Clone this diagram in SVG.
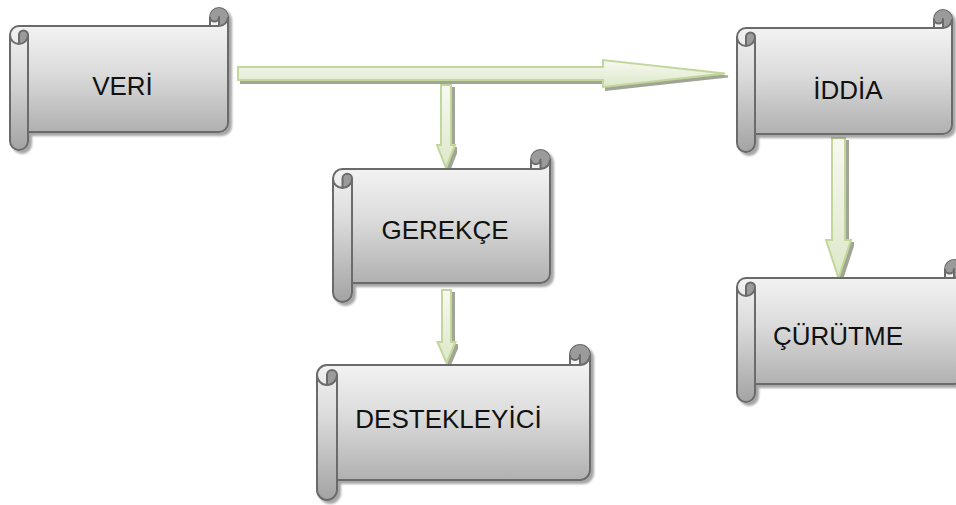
<svg xmlns="http://www.w3.org/2000/svg" width="956" height="505" viewBox="0 0 956 505">
<defs>
<linearGradient id="gScroll" x1="0" y1="0" x2="0" y2="1">
<stop offset="0" stop-color="#fbfbfb"/>
<stop offset="0.45" stop-color="#dcdcdc"/>
<stop offset="1" stop-color="#a3a3a3"/>
</linearGradient>
<linearGradient id="gArrow" x1="0" y1="0" x2="0" y2="1">
<stop offset="0" stop-color="#f7f9f2"/>
<stop offset="1" stop-color="#dde8c9"/>
</linearGradient>
<filter id="shNode" x="-10%" y="-10%" width="120%" height="120%">
<feGaussianBlur in="SourceAlpha" stdDeviation="1.2"/>
<feOffset dx="2.5" dy="2.5" result="b"/>
<feFlood flood-color="#000" flood-opacity="0.35"/>
<feComposite in2="b" operator="in"/>
<feMerge><feMergeNode/><feMergeNode in="SourceGraphic"/></feMerge>
</filter>
<filter id="shArrow" x="-10%" y="-20%" width="120%" height="140%">
<feOffset in="SourceAlpha" dx="3" dy="3" result="b"/>
<feFlood flood-color="#7f8774" flood-opacity="0.75"/>
<feComposite in2="b" operator="in"/>
<feMerge><feMergeNode/><feMergeNode in="SourceGraphic"/></feMerge>
</filter>
</defs>
<style>
.body{fill:url(#gScroll);stroke:#6b6b6b;stroke-width:2;stroke-linejoin:round}
.det{fill:none;stroke:#6b6b6b;stroke-width:2;stroke-linejoin:round}
.dark{fill:#9b9b9b;stroke:none}
.arr{fill:url(#gArrow);stroke:#c3d69b;stroke-width:2;stroke-linejoin:miter}
.lbl{font-family:"Liberation Sans",Arial,sans-serif;font-size:26px;fill:#111;text-anchor:middle}
</style>

<g id="connectors">
<polygon class="arr" filter="url(#shArrow)" points="238,67 603,67 603,60 725,73.5 603,87 603,80 238,80"/>
<polygon class="arr" filter="url(#shArrow)" points="441,85 451,85 451,145 455,145 446,168 437,145 441,145"/>
<polygon class="arr" filter="url(#shArrow)" points="442,290 451,290 451,342 455.5,342 446.5,363 437.5,342 442,342"/>
<polygon class="arr" filter="url(#shArrow)" points="832,138 845,138 845,240 851,240 838.5,278 826,240 832,240"/>
</g>

<g id="node-veri">
<g filter="url(#shNode)">
<path class="body" d="M10,35 A9,9 0 0 1 19,26 L210,26 L210,17 A9,9 0 0 1 228,17 L228,123 A9,9 0 0 1 219,132 L28,132 L28,141 A9,9 0 0 1 10,141 Z"/>
</g>
<path class="dark" d="M19,44 A9,9 0 0 0 28,35 A4.5,4.5 0 0 0 19,35 Z M219,26 A9,9 0 1 0 210,17 A4.5,4.5 0 0 0 219,17 Z"/>
<path class="det" d="M210,26 L219,26 A9,9 0 0 0 228,17 M219,26 L219,17 A4.5,4.5 0 0 1 210,17 M19,44 L19,35 A4.5,4.5 0 0 1 28,35 A9,9 0 0 1 10,35 M28,35 L28,132"/>
<text class="lbl" x="122.5" y="95">VERİ</text>
</g>

<g id="node-iddia">
<g filter="url(#shNode)">
<path class="body" d="M737,37 A9,9 0 0 1 746,28 L934,28 L934,19 A9,9 0 0 1 952,19 L952,125 A9,9 0 0 1 943,134 L755,134 L755,143 A9,9 0 0 1 737,143 Z"/>
</g>
<path class="dark" d="M746,46 A9,9 0 0 0 755,37 A4.5,4.5 0 0 0 746,37 Z M943,28 A9,9 0 1 0 934,19 A4.5,4.5 0 0 0 943,19 Z"/>
<path class="det" d="M934,28 L943,28 A9,9 0 0 0 952,19 M943,28 L943,19 A4.5,4.5 0 0 1 934,19 M746,46 L746,37 A4.5,4.5 0 0 1 755,37 A9,9 0 0 1 737,37 M755,37 L755,134"/>
<text class="lbl" x="848" y="99">İDDİA</text>
</g>

<g id="node-gerekce">
<g filter="url(#shNode)">
<path class="body" d="M333,178.5 A9.5,9.5 0 0 1 342.5,169 L531,169 L531,159.5 A9.5,9.5 0 0 1 550,159.5 L550,273.5 A9.5,9.5 0 0 1 540.5,283 L352,283 L352,292.5 A9.5,9.5 0 0 1 333,292.5 Z"/>
</g>
<path class="dark" d="M342.5,188 A9.5,9.5 0 0 0 352,178.5 A4.75,4.75 0 0 0 342.5,178.5 Z M540.5,169 A9.5,9.5 0 1 0 531,159.5 A4.75,4.75 0 0 0 540.5,159.5 Z"/>
<path class="det" d="M531,169 L540.5,169 A9.5,9.5 0 0 0 550,159.5 M540.5,169 L540.5,159.5 A4.75,4.75 0 0 1 531,159.5 M342.5,188 L342.5,178.5 A4.75,4.75 0 0 1 352,178.5 A9.5,9.5 0 0 1 333,178.5 M352,178.5 L352,283"/>
<text class="lbl" x="445" y="239">GEREKÇE</text>
</g>

<g id="node-destekleyici">
<g filter="url(#shNode)">
<path class="body" d="M317,375 A10,10 0 0 1 327,365 L570,365 L570,355 A10,10 0 0 1 590,355 L590,470 A10,10 0 0 1 580,480 L337,480 L337,490 A10,10 0 0 1 317,490 Z"/>
</g>
<path class="dark" d="M327,385 A10,10 0 0 0 337,375 A5,5 0 0 0 327,375 Z M580,365 A10,10 0 1 0 570,355 A5,5 0 0 0 580,355 Z"/>
<path class="det" d="M570,365 L580,365 A10,10 0 0 0 590,355 M580,365 L580,355 A5,5 0 0 1 570,355 M327,385 L327,375 A5,5 0 0 1 337,375 A10,10 0 0 1 317,375 M337,375 L337,480"/>
<text class="lbl" x="448.5" y="428">DESTEKLEYİCİ</text>
</g>

<g id="node-curutme">
<g filter="url(#shNode)">
<path class="body" d="M737,287 A9,9 0 0 1 746,278 L945,278 L945,269 A9,9 0 0 1 963,269 L963,375 A9,9 0 0 1 954,384 L755,384 L755,393 A9,9 0 0 1 737,393 Z"/>
</g>
<path class="dark" d="M746,296 A9,9 0 0 0 755,287 A4.5,4.5 0 0 0 746,287 Z M954,278 A9,9 0 1 0 945,269 A4.5,4.5 0 0 0 954,269 Z"/>
<path class="det" d="M945,278 L954,278 A9,9 0 0 0 963,269 M954,278 L954,269 A4.5,4.5 0 0 1 945,269 M746,296 L746,287 A4.5,4.5 0 0 1 755,287 A9,9 0 0 1 737,287 M755,287 L755,384"/>
<text class="lbl" x="838" y="345">ÇÜRÜTME</text>
</g>
</svg>
